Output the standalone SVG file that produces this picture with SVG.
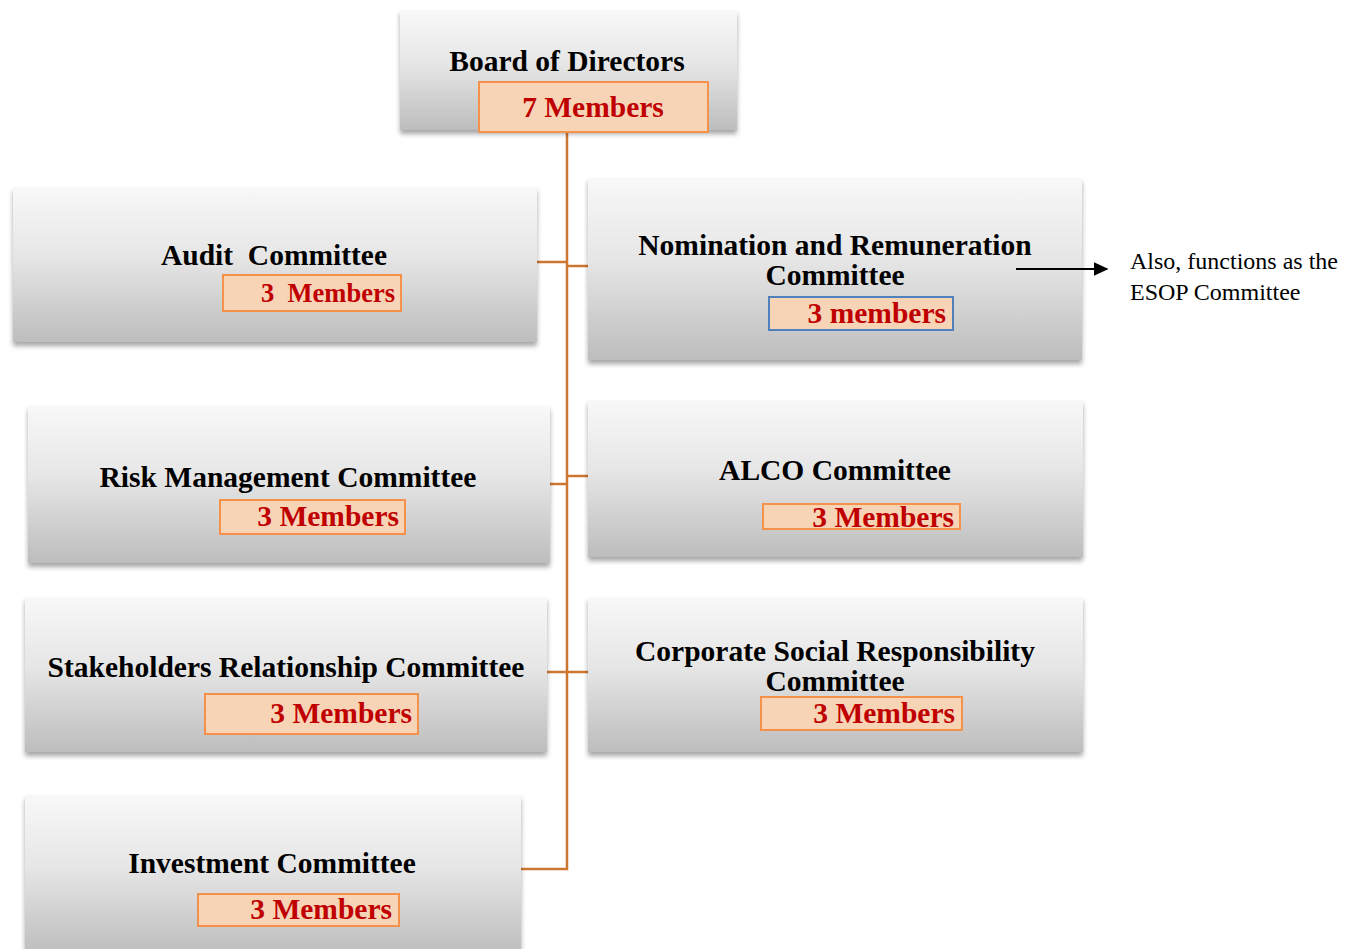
<svg xmlns="http://www.w3.org/2000/svg" width="1356" height="949" viewBox="0 0 1356 949">
<defs>
<linearGradient id="g" x1="0" y1="0" x2="0" y2="1">
<stop offset="0" stop-color="#f8f8f8"/>
<stop offset="0.45" stop-color="#e6e6e6"/>
<stop offset="1" stop-color="#bdbdbd"/>
</linearGradient>
<filter id="sh" x="-5%" y="-10%" width="110%" height="125%">
<feGaussianBlur in="SourceAlpha" stdDeviation="2.5"/>
<feOffset dx="0" dy="4" result="b"/>
<feComponentTransfer><feFuncA type="linear" slope="0.35"/></feComponentTransfer>
<feMerge><feMergeNode/><feMergeNode in="SourceGraphic"/></feMerge>
</filter>
<marker id="arr" viewBox="0 0 10 10" refX="9" refY="5" markerWidth="15" markerHeight="14" markerUnits="userSpaceOnUse" orient="auto" preserveAspectRatio="none">
<path d="M0,0 L10,5 L0,10 z" fill="#000"/>
</marker>
</defs>
<style>
.box{fill:url(#g);filter:url(#sh)}
.mem{fill:#f8d4b6;stroke:#f5914a;stroke-width:2}
.memb{fill:#f8d4b6;stroke:#4f81bd;stroke-width:2}
.t{font-family:"Liberation Serif",serif;font-weight:bold;font-size:29.5px;fill:#000}
.m{font-family:"Liberation Serif",serif;font-weight:bold;font-size:29.5px;fill:#c00000}
.m.s{font-size:26.5px}
.n{font-family:"Liberation Serif",serif;font-size:24px;fill:#000}
.c{fill:none;stroke:#cd7630;stroke-width:2.5}
</style>
<rect width="1356" height="949" fill="#fff"/>

<g id="connectors">
<path class="c" d="M567,132 V869 H521"/>
<path class="c" d="M537,262 H567"/>
<path class="c" d="M567,266 H588"/>
<path class="c" d="M550,484 H567"/>
<path class="c" d="M567,476 H588"/>
<path class="c" d="M547,672 H588"/>
</g>

<g id="board">
<rect class="box" x="400" y="10" width="337" height="120"/>
<text class="t" x="567" y="71" text-anchor="middle">Board of Directors</text>
<rect class="mem" x="479" y="82" width="229" height="50"/>
<text class="m" x="593" y="117" text-anchor="middle">7 Members</text>
</g>

<g id="audit">
<rect class="box" x="13" y="187" width="524" height="155"/>
<text class="t" x="274" y="265" text-anchor="middle" xml:space="preserve">Audit  Committee</text>
<rect class="mem" x="223" y="275" width="178" height="36"/>
<text class="m s" x="395" y="302" text-anchor="end" xml:space="preserve">3  Members</text>
</g>

<g id="nomination">
<rect class="box" x="588" y="178" width="494" height="182"/>
<text class="t" x="835" y="255" text-anchor="middle">Nomination and Remuneration</text>
<text class="t" x="835" y="285" text-anchor="middle">Committee</text>
<rect class="memb" x="769" y="297" width="184" height="33"/>
<text class="m" x="946" y="323" text-anchor="end">3 members</text>
</g>

<g id="esop-note">
<line x1="1016" y1="269" x2="1107" y2="269" stroke="#000" stroke-width="2" marker-end="url(#arr)"/>
<text class="n" x="1130" y="269">Also, functions as the</text>
<text class="n" x="1130" y="300">ESOP Committee</text>
</g>

<g id="risk">
<rect class="box" x="28" y="406" width="522" height="157"/>
<text class="t" x="288" y="487" text-anchor="middle">Risk Management Committee</text>
<rect class="mem" x="220" y="500" width="185" height="34"/>
<text class="m" x="399" y="526" text-anchor="end">3 Members</text>
</g>

<g id="alco">
<rect class="box" x="588" y="400" width="495" height="157"/>
<text class="t" x="835" y="480" text-anchor="middle">ALCO Committee</text>
<rect class="mem" x="763" y="504" width="197" height="25"/>
<text class="m" x="954" y="527" text-anchor="end">3 Members</text>
</g>

<g id="stakeholders">
<rect class="box" x="25" y="597" width="522" height="155"/>
<text class="t" x="286" y="677" text-anchor="middle">Stakeholders Relationship Committee</text>
<rect class="mem" x="205" y="694" width="213" height="40"/>
<text class="m" x="412" y="723" text-anchor="end">3 Members</text>
</g>

<g id="csr">
<rect class="box" x="588" y="597" width="495" height="155"/>
<text class="t" x="835" y="661" text-anchor="middle">Corporate Social Responsibility</text>
<text class="t" x="835" y="691" text-anchor="middle">Committee</text>
<rect class="mem" x="761" y="697" width="201" height="33"/>
<text class="m" x="955" y="723" text-anchor="end">3 Members</text>
</g>

<g id="investment">
<rect class="box" x="25" y="795" width="496" height="160"/>
<text class="t" x="272" y="873" text-anchor="middle">Investment Committee</text>
<rect class="mem" x="198" y="894" width="201" height="32"/>
<text class="m" x="392" y="919" text-anchor="end">3 Members</text>
</g>
</svg>
